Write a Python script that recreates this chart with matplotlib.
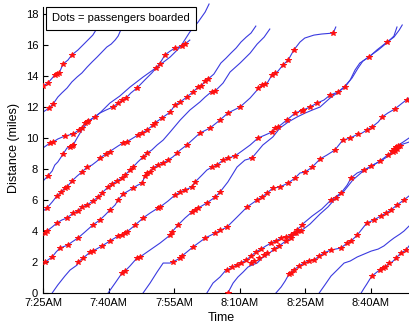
import matplotlib
matplotlib.use("Agg")
import matplotlib.pyplot as plt

plt.rcParams['font.family'] = ['Liberation Sans', 'DejaVu Sans']

# minutes after 7:25AM, miles
tick_minutes = [0, 15, 30, 45, 60, 75]
tick_labels = ['7:25AM', '7:40AM', '7:55AM', '8:10AM', '8:25AM', '8:40AM']

# bus trajectories
bus_a_time = [0, 1.1, 2.1, 2.7, 3.7, 4.6, 5.7, 6.6, 8.0, 9.6, 11.4, 12.4]
bus_a_dist = [13.33, 13.52, 13.84, 14.04, 14.17, 14.75, 15.0, 15.33, 15.65, 16.1, 16.61, 17.06]
bus_b_time = [0, 1.4, 2.3, 3.4, 4.3, 5.5, 6.6, 7.8, 8.9, 10.1, 11.2, 12.4, 13.5, 14.6, 15.6, 16.5, 17.2, 17.6, 18.1]
bus_b_dist = [11.65, 11.91, 12.17, 12.62, 12.88, 13.2, 13.59, 13.91, 14.17, 14.55, 14.87, 15.2, 15.52, 15.84, 16.03, 16.29, 16.55, 16.81, 17.13]
bus_c_time = [0, 1.6, 2.3, 3.4, 5.0, 6.9, 8.2, 8.9, 9.6, 10.3, 11.9, 13.0, 14.4, 16.0, 17.2, 18.3, 19.0, 20.1, 21.5,
              23.3, 24.9, 26.3, 27.2, 27.9, 29.1, 30.2, 31.8, 32.5, 33.6]
bus_c_dist = [9.34, 9.66, 9.72, 9.92, 10.11, 10.24, 10.5, 10.62, 10.95, 11.08, 11.33, 11.59, 11.78, 11.98, 12.23, 12.43,
              12.56, 12.88, 13.2, 13.72, 14.17, 14.62, 15.0, 15.33, 15.58, 15.78, 15.9, 16.03, 16.29]
bus_d_time = [0, 1.1, 2.1, 2.7, 3.4, 4.6, 5.5, 6.2, 6.9, 7.8, 8.9, 10.1, 11.4, 13.0, 15.3, 17.6, 19.9, 22.9, 26.1,
              29.1, 31.4, 33.6, 35.5, 37.1, 38.0]
bus_d_dist = [7.21, 7.53, 7.86, 8.24, 8.44, 8.95, 9.34, 9.4, 9.53, 9.98, 10.5, 10.95, 11.27, 11.59, 12.23, 12.69,
              13.26, 13.91, 14.55, 15.2, 15.84, 16.81, 17.45, 18.09, 18.61]
bus_e_time = [0, 0.9, 2.1, 3.2, 4.1, 5.0, 5.5, 6.6, 7.8, 8.9, 10.1, 11.2, 12.4, 13.0, 14.4, 15.8, 17.2, 18.3, 19.5,
              20.6, 21.7, 22.7, 23.8, 25.2, 25.6, 27.2, 29.1, 30.2, 31.4, 32.9, 34.3, 35.5, 36.2, 37.1, 37.8, 39.1,
              40.7, 41.9, 43.0, 44.2, 45.3, 46.5, 47.6, 48.7]
bus_e_dist = [5.28, 5.47, 5.86, 6.25, 6.5, 6.76, 6.83, 7.21, 7.53, 7.79, 8.11, 8.24, 8.5, 8.69, 8.95, 9.21, 9.47,
              9.66, 9.79, 9.98, 10.17, 10.3, 10.5, 10.82, 10.95, 11.27, 11.65, 12.11, 12.3, 12.62, 12.94, 13.26,
              13.33, 13.65, 13.78, 14.1, 14.81, 15.13, 15.45, 15.78, 16.16, 16.48, 16.74, 17.19]
bus_f_time = [0, 0.5, 0.9, 2.1, 3.2, 4.3, 5.5, 6.9, 8.0, 8.9, 10.1, 11.4, 12.6, 13.5, 14.9, 15.8, 16.9, 18.1, 18.8,
              19.9, 20.6, 21.7, 22.9, 23.8, 24.9, 26.1, 27.5, 29.1, 31.4, 33.6, 35.9, 37.1, 38.2, 39.4, 41.2, 42.8,
              45.1, 47.4, 49.0, 50.6, 51.9]
bus_f_dist = [3.86, 3.86, 3.99, 4.25, 4.51, 4.7, 4.83, 5.15, 5.28, 5.54, 5.67, 5.92, 6.18, 6.44, 6.83, 7.02, 7.21,
              7.41, 7.6, 7.92, 8.11, 8.44, 8.76, 9.01, 9.21, 9.53, 9.85, 10.37, 11.14, 11.78, 12.3, 12.62, 12.88,
              13.01, 13.52, 14.23, 14.81, 15.45, 16.03, 16.48, 17.0]
bus_g_time = [0, 0.5, 2.1, 3.0, 3.9, 5.7, 6.6, 8.0, 9.6, 11.4, 13.0, 14.2, 15.3, 16.5, 17.2, 18.3, 19.5, 20.6, 21.7,
              22.7, 23.3, 23.8, 24.5, 25.2, 26.3, 27.5, 28.6, 29.7, 30.7, 31.4, 32.9, 35.9, 38.2, 40.5, 42.3, 45.1,
              47.4, 49.0, 50.1, 51.3, 52.4, 53.6, 54.9, 56.1, 57.4, 58.8, 59.9, 62.0, 63.8, 66.4, 67.0]
bus_g_dist = [1.93, 2.0, 2.32, 2.64, 2.9, 3.09, 3.28, 3.54, 3.93, 4.38, 4.7, 5.02, 5.34, 5.67, 5.99, 6.37, 6.57,
              6.76, 6.95, 7.08, 7.53, 7.73, 7.79, 8.05, 8.24, 8.37, 8.56, 8.76, 9.01, 9.21, 9.53, 10.3, 10.62, 11.14,
              11.59, 11.98, 12.56, 13.07, 13.39, 13.52, 14.04, 14.23, 14.68, 15.0, 15.65, 16.16, 16.42, 16.61, 16.68,
              16.74, 17.13]
bus_h_time = [2.1, 3.4, 5.0, 6.2, 7.8, 8.0, 9.2, 10.8, 11.4, 13.5, 15.3, 17.2, 18.1, 18.8, 19.2, 21.1, 22.9, 24.5,
              26.3, 26.8, 28.6, 30.2, 31.4, 32.5, 34.1, 34.8, 36.4, 37.5, 38.7, 39.8, 41.2, 42.3, 43.9, 45.5, 47.4,
              49.2, 50.8, 52.4, 53.1, 53.8, 55.8, 57.7, 59.5, 61.1, 62.7, 64.3, 65.7, 67.5, 69.1, 70.3, 71.4, 72.5,
              74.6, 76.4, 78.7, 80.3, 81.5, 82.2]
bus_h_dist = [0, 0.52, 1.09, 1.48, 1.8, 2.0, 2.25, 2.64, 2.7, 3.03, 3.35, 3.67, 3.73, 3.86, 3.93, 4.38, 4.83, 5.15,
              5.47, 5.54, 5.92, 6.31, 6.5, 6.63, 6.83, 7.15, 7.6, 7.92, 8.11, 8.24, 8.56, 8.69, 8.82, 9.14, 9.53,
              9.98, 10.17, 10.37, 10.62, 10.69, 11.14, 11.59, 11.78, 11.98, 12.23, 12.43, 12.75, 12.94, 13.26,
              13.72, 14.36, 14.81, 15.2, 15.65, 16.16, 16.48, 16.93, 17.26]
bus_i_time = [14.9, 16.5, 18.1, 18.8, 19.9, 21.5, 22.2, 24.5, 26.8, 29.1, 29.5, 30.9, 32.5, 34.1, 34.8, 35.5, 37.5,
              39.4, 40.5, 42.3, 44.4, 46.2, 47.8, 50.3, 52.6, 54.2, 56.1, 58.1, 60.0, 61.6, 63.4, 65.7, 67.3, 69.1,
              70.7, 72.1, 73.2, 74.8, 76.7, 78.9, 80.3, 81.0]
bus_i_dist = [0, 0.64, 1.29, 1.42, 1.74, 2.25, 2.32, 2.77, 3.22, 3.73, 3.93, 4.38, 4.83, 5.22, 5.34, 5.47, 5.8,
              6.18, 6.5, 7.15, 8.11, 8.56, 8.69, 9.53, 10.05, 10.62, 11.01, 11.33, 11.59, 11.78, 11.98, 12.56,
              12.88, 13.33, 13.84, 14.49, 14.94, 15.26, 15.65, 16.16, 16.55, 17.13]
bus_j_time = [22.9, 24.5, 26.1, 27.5, 29.1, 29.7, 31.4, 31.8, 34.3, 37.1, 39.4, 42.1, 44.4, 46.7, 49.0, 50.1, 51.3,
              52.6, 54.2, 56.1, 57.7, 58.8, 60.0, 61.6, 63.4, 65.0, 66.8, 68.6, 70.3, 72.1, 73.0, 74.1, 75.3, 76.7,
              77.6, 78.9, 80.5, 82.2, 83.75]
bus_j_dist = [0, 0.64, 1.35, 1.93, 1.93, 2.0, 2.25, 2.38, 2.96, 3.54, 3.86, 4.25, 4.89, 5.54, 5.99, 6.18, 6.44,
              6.76, 6.83, 7.08, 7.41, 7.73, 7.79, 8.11, 8.63, 8.89, 9.21, 9.85, 9.98, 10.24, 10.3, 10.5, 10.69,
              11.01, 11.33, 11.59, 11.85, 12.23, 12.56]
bus_k_time = [37.5, 38.9, 40.5, 41.7, 42.1, 43.3, 44.4, 45.3, 46.5, 47.6, 48.7, 49.9, 51.0, 52.2, 53.3, 54.5, 55.6,
              56.8, 57.4, 58.1, 59.3, 59.7, 61.6, 63.8, 65.9, 68.2, 69.6, 70.5, 71.9, 73.5, 75.1, 77.6, 79.4, 80.1,
              81.0, 82.4, 83.75]
bus_k_dist = [0, 0.64, 1.03, 1.42, 1.48, 1.67, 1.8, 1.93, 2.12, 2.38, 2.64, 2.83, 3.03, 3.22, 3.35, 3.54, 3.61,
              3.73, 3.86, 4.06, 4.38, 4.51, 4.96, 5.41, 5.99, 6.44, 6.95, 7.41, 7.73, 7.92, 8.18, 8.56, 8.89, 9.21,
              9.47, 9.72, 9.98]
bus_l_time = [42.3, 43.5, 44.6, 45.8, 46.9, 47.8, 49.0, 50.1, 51.3, 52.9, 54.0, 55.6, 56.8, 57.9, 59.0, 61.1, 63.4,
              65.2, 67.0, 68.9, 70.9, 73.0, 74.8, 77.1, 78.9, 80.3, 81.7, 83.75]
bus_l_dist = [0, 0.64, 1.03, 1.35, 1.67, 1.8, 1.93, 2.25, 2.45, 2.83, 3.03, 3.35, 3.54, 3.86, 3.99, 4.44, 5.09,
              5.54, 6.12, 6.57, 7.28, 7.79, 8.11, 8.5, 8.89, 9.14, 9.53, 9.72]
bus_m_time = [53.3, 54.5, 55.4, 56.3, 57.4, 58.6, 59.7, 60.9, 62.0, 63.2, 64.3, 65.9, 68.2, 69.6, 70.5, 71.9, 73.0,
              74.1, 75.7, 77.3, 78.5, 79.6, 81.0, 82.6, 83.75]
bus_m_dist = [0, 0.39, 0.77, 1.22, 1.48, 1.74, 1.93, 2.06, 2.12, 2.38, 2.58, 2.77, 2.9, 3.22, 3.35, 3.73, 4.12,
              4.51, 4.7, 4.96, 5.15, 5.34, 5.67, 5.99, 6.25]
bus_n_time = [63.2, 64.5, 65.9, 67.3, 68.9, 70.3, 71.9, 73.5, 75.1, 76.7, 78.0, 79.4, 80.3, 81.7, 82.6, 83.75]
bus_n_dist = [0, 0.52, 1.09, 1.48, 1.93, 2.06, 2.32, 2.51, 2.7, 2.83, 3.03, 3.35, 3.54, 3.8, 3.99, 4.31]
bus_o_time = [72.8, 73.5, 74.1, 74.8, 75.3, 76.4, 77.1, 77.8, 78.3, 79.2, 79.9, 80.8, 81.9, 83.1, 83.75]
bus_o_dist = [0, 0.32, 0.58, 0.9, 1.09, 1.35, 1.48, 1.61, 1.67, 1.93, 2.0, 2.25, 2.58, 2.77, 3.03]

# boardings
board_a_time = [0, 1.1, 2.7, 3.2, 3.7, 4.6, 6.6]
board_a_dist = [13.33, 13.52, 14.04, 14.1, 14.17, 14.75, 15.33]
board_b_time = [1.4, 2.3]
board_b_dist = [11.91, 12.17]
board_c_time = [1.6, 2.3, 5.0, 6.9, 8.2, 8.9, 9.6, 10.1, 10.3, 11.9, 16.0, 17.2, 18.1, 19.0, 21.5, 25.9, 26.8,
                27.9, 30.2, 31.8, 32.5]
board_c_dist = [9.66, 9.72, 10.11, 10.24, 10.5, 10.62, 10.95, 11.01, 11.08, 11.33, 11.98, 12.23, 12.43, 12.56,
                13.2, 14.49, 14.75, 15.33, 15.78, 15.9, 16.03]
board_d_time = [1.1, 4.6, 6.2, 6.6, 6.9]
board_d_dist = [7.53, 8.95, 9.4, 9.47, 9.53]
board_e_time = [0.9, 3.2, 4.1, 5.0, 5.5, 6.6, 8.9, 10.1, 13.0, 14.4, 15.3, 18.3, 19.2, 21.7, 22.7, 23.8, 25.2,
                25.6, 27.2, 29.1, 30.2, 31.4, 32.9, 34.3, 35.5, 36.2, 37.1, 37.8]
board_e_dist = [5.47, 6.25, 6.5, 6.76, 6.83, 7.21, 7.79, 8.11, 8.69, 8.95, 9.08, 9.66, 9.72, 10.17, 10.3, 10.5,
                10.82, 10.95, 11.27, 11.65, 12.11, 12.3, 12.62, 12.94, 13.26, 13.33, 13.65, 13.78]
board_f_time = [0.5, 0.9, 3.2, 5.5, 6.9, 8.0, 8.9, 10.1, 11.4, 12.6, 13.5, 14.9, 15.8, 16.9, 18.1, 18.8, 19.9,
                20.6, 22.9, 23.8, 38.7, 39.4]
board_f_dist = [3.86, 3.99, 4.51, 4.83, 5.15, 5.28, 5.54, 5.67, 5.92, 6.18, 6.44, 6.83, 7.02, 7.21, 7.41, 7.6,
                7.92, 8.11, 8.76, 9.01, 12.94, 13.01]
board_g_time = [0.5, 2.1, 3.9, 5.7, 8.0, 11.4, 13.0, 15.3, 17.2, 18.3, 20.6, 22.7, 23.3, 23.8, 24.5, 25.2, 26.3,
                27.5, 28.6, 30.7, 32.9, 35.9, 38.2, 40.5, 42.3, 45.1, 49.2, 50.1, 50.8, 52.4, 53.1, 54.9, 56.1,
                57.4, 66.4]
board_g_dist = [2.0, 2.32, 2.9, 3.09, 3.54, 4.38, 4.7, 5.34, 5.99, 6.37, 6.76, 7.08, 7.53, 7.73, 7.79, 8.05, 8.24,
                8.37, 8.56, 9.01, 9.53, 10.3, 10.62, 11.14, 11.59, 11.98, 13.2, 13.39, 13.46, 14.04, 14.17, 14.68,
                15.0, 15.65, 16.74]
board_h_time = [8.0, 9.2, 10.8, 11.4, 13.5, 15.3, 17.2, 18.1, 18.8, 19.2, 21.1, 22.9, 26.3, 26.8, 30.2, 31.4, 32.5,
                34.1, 34.8, 38.7, 39.8, 41.2, 42.3, 43.9, 49.2, 52.4, 53.1, 53.8, 55.8, 57.7, 59.3, 59.5, 61.1,
                62.7, 65.7, 67.5, 69.1, 74.6, 78.7]
board_h_dist = [2.0, 2.25, 2.64, 2.7, 3.03, 3.35, 3.67, 3.73, 3.86, 3.93, 4.38, 4.83, 5.47, 5.54, 6.31, 6.5, 6.63,
                6.83, 7.15, 8.11, 8.24, 8.56, 8.69, 8.82, 9.98, 10.37, 10.62, 10.69, 11.14, 11.59, 11.72, 11.78,
                11.98, 12.23, 12.75, 12.94, 13.26, 15.2, 16.16]
board_i_time = [18.1, 18.8, 21.5, 22.2, 29.1, 29.5, 30.9, 34.1, 34.8, 35.5, 37.5, 39.4, 40.5, 47.8]
board_i_dist = [1.29, 1.42, 2.25, 2.32, 3.73, 3.93, 4.38, 5.22, 5.34, 5.47, 5.8, 6.18, 6.5, 8.69]
board_j_time = [29.7, 31.4, 31.8, 34.3, 37.1, 39.4, 40.5, 42.1, 46.7, 49.0, 50.1, 51.3, 52.6, 54.2, 56.1, 57.7,
                60.0, 61.6, 63.4, 66.8, 68.6, 70.3, 72.1, 74.1, 75.3, 77.6, 80.5, 83.3]
board_j_dist = [2.0, 2.25, 2.38, 2.96, 3.54, 3.86, 4.06, 4.25, 5.54, 5.99, 6.18, 6.44, 6.76, 6.83, 7.08, 7.41,
                7.79, 8.11, 8.63, 9.21, 9.85, 9.98, 10.24, 10.5, 10.69, 11.33, 11.85, 12.43]
board_k_time = [42.1, 43.3, 44.4, 45.3, 46.5, 47.6, 48.7, 49.9, 52.2, 53.3, 54.5, 55.6, 56.8, 57.4, 58.1, 59.3,
                65.9, 70.5, 73.5, 75.1, 79.9, 80.3, 80.8, 81.2]
board_k_dist = [1.48, 1.67, 1.8, 1.93, 2.12, 2.38, 2.64, 2.83, 3.22, 3.35, 3.54, 3.61, 3.73, 3.86, 4.06, 4.38,
                5.99, 7.41, 7.92, 8.18, 9.14, 9.27, 9.4, 9.47]
board_l_time = [42.3, 47.6, 48.3, 49.4, 50.6, 51.3, 52.9, 54.0, 55.6, 56.8, 57.9, 59.0, 67.0, 68.2, 77.1, 78.9,
                80.1, 80.5, 81.0, 81.7]
board_l_dist = [0, 1.93, 2.06, 2.25, 2.45, 2.58, 2.83, 3.03, 3.35, 3.54, 3.86, 3.99, 6.12, 6.44, 8.5, 8.89, 9.08,
                9.14, 9.27, 9.47]
board_m_time = [56.3, 56.8, 57.4, 58.6, 59.7, 60.9, 62.0, 63.2, 64.3, 65.9, 68.2, 69.6, 70.5, 71.9, 74.1, 75.7,
                77.3, 78.5, 79.6, 81.0, 82.6]
board_m_dist = [1.22, 1.29, 1.48, 1.74, 1.93, 2.06, 2.12, 2.38, 2.58, 2.77, 2.9, 3.22, 3.35, 3.73, 4.51, 4.7, 4.96,
                5.15, 5.34, 5.67, 5.99]
board_o_time = [75.3, 77.1, 77.8, 78.3, 79.2, 80.8, 81.9, 83.1]
board_o_dist = [1.09, 1.48, 1.61, 1.67, 1.93, 2.25, 2.58, 2.77]

buses = [
    (bus_a_time, bus_a_dist), (bus_b_time, bus_b_dist), (bus_c_time, bus_c_dist),
    (bus_d_time, bus_d_dist), (bus_e_time, bus_e_dist), (bus_f_time, bus_f_dist),
    (bus_g_time, bus_g_dist), (bus_h_time, bus_h_dist), (bus_i_time, bus_i_dist),
    (bus_j_time, bus_j_dist), (bus_k_time, bus_k_dist), (bus_l_time, bus_l_dist),
    (bus_m_time, bus_m_dist), (bus_n_time, bus_n_dist), (bus_o_time, bus_o_dist),
]
boardings = [
    (board_a_time, board_a_dist), (board_b_time, board_b_dist), (board_c_time, board_c_dist),
    (board_d_time, board_d_dist), (board_e_time, board_e_dist), (board_f_time, board_f_dist),
    (board_g_time, board_g_dist), (board_h_time, board_h_dist), (board_i_time, board_i_dist),
    (board_j_time, board_j_dist), (board_k_time, board_k_dist), (board_l_time, board_l_dist),
    (board_m_time, board_m_dist), (board_o_time, board_o_dist),
]

fig = plt.figure(figsize=(4.09, 3.26), dpi=100)
ax = fig.add_axes([0.1051, 0.1012, 0.8949, 0.8988])

for t, d in buses:
    ax.plot(t, d, color='#3a3ae0', lw=0.8, zorder=2)
for t, d in boardings:
    ax.plot(t, d, linestyle='none', marker='*', ms=4.0, mew=0.7, color='#ff1010', zorder=3)

ax.set_xlim(0, 83.75)
ax.set_ylim(0, 18.87)
ax.set_xticks(tick_minutes)
ax.set_xticklabels(tick_labels)
ax.set_yticks(range(0, 19, 2))
ax.tick_params(direction='in', length=3.5, width=0.8, labelsize=8, pad=3.5, colors='black')
for side in ['top', 'right']:
    ax.spines[side].set_visible(False)
ax.spines['left'].set_bounds(0, 18.4)
ax.spines['left'].set_linewidth(0.8)
ax.spines['bottom'].set_linewidth(0.8)

fig.text(221 / 409, 1 - 318 / 326, 'Time', fontsize=9, ha='center', va='center')
fig.text(14 / 409, 1 - 148 / 326, 'Distance (miles)', fontsize=9, ha='center', va='center', rotation=90)

ax.text(0.024, 0.937, 'Dots = passengers boarded', transform=ax.transAxes, fontsize=8,
        ha='left', va='center', zorder=5,
        bbox=dict(boxstyle='square,pad=0.55', fc='white', ec='black', lw=0.8))

fig.savefig('out.png', dpi=100)
